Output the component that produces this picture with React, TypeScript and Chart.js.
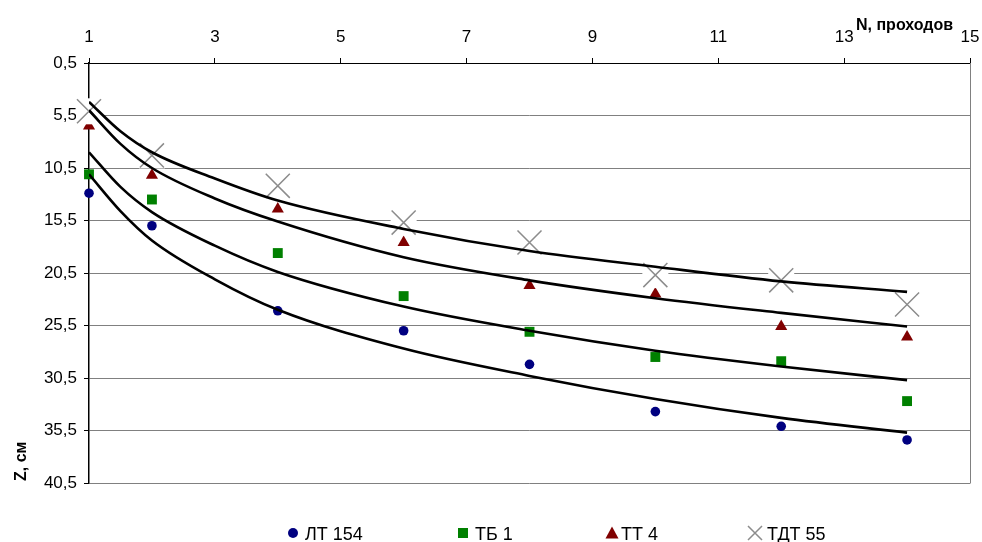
import React, { useEffect, useRef } from "react";
import { Chart, registerables } from "chart.js";

Chart.register(...registerables);

// ---- data ----
const xValues = [1, 2, 4, 6, 8, 10, 12, 14];
const lt154 = [12.9, 16.0, 24.1, 26.0, 29.2, 33.7, 35.1, 36.4];
const tb1 = [11.1, 13.5, 18.6, 22.7, 26.1, 28.5, 28.9, 32.7];
const tt4 = [6.5, 11.2, 14.4, 17.6, 21.7, 22.5, 25.6, 26.6];
const tdt55 = [5.1, 9.3, 12.2, 15.7, 17.6, 20.7, 21.2, 23.5];

// trend lines
const trendX = [1, 1.5, 2, 3, 4, 6, 8, 10, 12, 14];
const trendLT = [11.1, 14.6, 17.4, 21.1, 24.0, 27.7, 30.3, 32.5, 34.3, 35.7];
const trendTB = [9.0, 12.3, 14.7, 17.9, 20.4, 23.7, 26.0, 27.9, 29.4, 30.7];
const trendTT = [5.0, 8.2, 10.5, 13.4, 15.6, 19.0, 21.2, 22.9, 24.3, 25.6];
const trendTDT = [4.2, 7.0, 9.0, 11.5, 13.6, 16.3, 18.4, 19.9, 21.3, 22.3];

const seriesNames = ["ЛТ 154", "ТБ 1", "ТТ 4", "ТДТ 55"];
const xTicks = [1, 3, 5, 7, 9, 11, 13, 15];
const yTicks = [0.5, 5.5, 10.5, 15.5, 20.5, 25.5, 30.5, 35.5, 40.5];
const xTitle = "N, проходов";
const yTitle = "Z, см";

const FONT = "'Liberation Sans', Arial, sans-serif";
const COLORS = ["#000080", "#008000", "#800000", "#8c8c8c"];

const pts = (xs: number[], ys: number[]) => xs.map((x, i) => ({ x, y: ys[i] }));

const legendX = [293, 463, 612, 755];

const extrasPlugin = {
  id: "extras",
  beforeDatasetsDraw(chart: any) {
    const { ctx, chartArea } = chart;
    ctx.save();
    ctx.strokeStyle = "#808080";
    ctx.lineWidth = 1;
    ctx.beginPath();
    ctx.moveTo(chartArea.right + 0.5, chartArea.top);
    ctx.lineTo(chartArea.right + 0.5, chartArea.bottom + 0.5);
    ctx.stroke();
    ctx.restore();
  },
  afterDraw(chart: any) {
    const { ctx } = chart;
    ctx.save();
    // axis titles
    ctx.fillStyle = "#000";
    ctx.font = `bold 16px ${FONT}`;
    ctx.textAlign = "left";
    ctx.textBaseline = "alphabetic";
    ctx.fillText(xTitle, 856, 30);
    ctx.save();
    ctx.translate(26, 481);
    ctx.rotate(-Math.PI / 2);
    ctx.fillText(yTitle, 0, 0);
    ctx.restore();

    // legend
    const cy = 533;
    seriesNames.forEach((name, i) => {
      const cx = legendX[i];
      ctx.fillStyle = COLORS[i];
      ctx.strokeStyle = COLORS[i];
      if (i === 0) {
        ctx.beginPath();
        ctx.arc(cx, cy, 5, 0, Math.PI * 2);
        ctx.fill();
      } else if (i === 1) {
        ctx.fillRect(cx - 5, cy - 5, 10, 10);
      } else if (i === 2) {
        ctx.beginPath();
        ctx.moveTo(cx, cy - 6.5);
        ctx.lineTo(cx + 6.5, cy + 5.5);
        ctx.lineTo(cx - 6.5, cy + 5.5);
        ctx.closePath();
        ctx.fill();
      } else {
        ctx.lineWidth = 1.5;
        ctx.beginPath();
        ctx.moveTo(cx - 7, cy - 7);
        ctx.lineTo(cx + 7, cy + 7);
        ctx.moveTo(cx + 7, cy - 7);
        ctx.lineTo(cx - 7, cy + 7);
        ctx.stroke();
      }
      ctx.fillStyle = "#000";
      ctx.font = `18px ${FONT}`;
      ctx.textAlign = "left";
      ctx.textBaseline = "alphabetic";
      ctx.fillText(name, cx + (i === 2 ? 9 : 12), 540);
    });
    ctx.restore();
  },
};

export default function App() {
  const ref = useRef<HTMLCanvasElement | null>(null);
  useEffect(() => {
    if (!ref.current) return;
    const trend = (ys: number[]) => ({
      data: pts(trendX, ys),
      showLine: true,
      pointRadius: 0,
      pointHoverRadius: 0,
      borderColor: "#000",
      borderWidth: 2.6,
      cubicInterpolationMode: "monotone" as const,
      order: 1,
    });
    const chart = new Chart(ref.current, {
      type: "scatter",
      data: {
        datasets: [
          {
            label: seriesNames[0],
            data: pts(xValues, lt154),
            pointStyle: "circle",
            pointRadius: 4.8,
            backgroundColor: COLORS[0],
            borderColor: COLORS[0],
            borderWidth: 0,
            clip: false,
            order: 4,
          },
          {
            label: seriesNames[1],
            data: pts(xValues, tb1),
            pointStyle: "rect",
            pointRadius: 7,
            backgroundColor: COLORS[1],
            borderColor: COLORS[1],
            borderWidth: 0,
            clip: false,
            order: 4,
          },
          {
            label: seriesNames[2],
            data: pts(xValues, tt4),
            pointStyle: "triangle",
            pointRadius: 7,
            backgroundColor: COLORS[2],
            borderColor: COLORS[2],
            borderWidth: 0,
            clip: false,
            order: 4,
          },
          {
            label: "bg",
            data: pts(xValues, tdt55),
            pointStyle: "rect",
            pointRadius: 18.4,
            backgroundColor: "#ffffff",
            borderWidth: 0,
            clip: false,
            order: 3,
          },
          {
            label: seriesNames[3],
            data: pts(xValues, tdt55),
            pointStyle: "crossRot",
            pointRadius: 17,
            backgroundColor: COLORS[3],
            borderColor: COLORS[3],
            borderWidth: 1.5,
            clip: false,
            order: 2,
          },
          trend(trendLT),
          trend(trendTB),
          trend(trendTT),
          trend(trendTDT),
        ] as any,
      },
      options: {
        animation: false,
        responsive: false,
        devicePixelRatio: 1,
        events: [],
        layout: { autoPadding: false, padding: { left: 0, right: 12, top: 0, bottom: 59 } },
        plugins: { legend: { display: false }, tooltip: { enabled: false } },
        scales: {
          x: {
            type: "linear",
            position: "top",
            min: 1,
            max: 15,
            afterBuildTicks: (s: any) => {
              s.ticks = xTicks.map((v) => ({ value: v }));
            },
            afterFit: (s: any) => {
              s.height = 63;
            },
            ticks: {
              color: "#000",
              font: { family: FONT, size: 17, lineHeight: 2.4 },
              padding: 0,
              maxRotation: 0,
              autoSkip: false,
              callback: (v: any) => String(v),
            },
            grid: {
              drawOnChartArea: false,
              drawTicks: true,
              tickLength: 5,
              tickColor: "#000",
            },
            border: { color: "#000", width: 1 },
          },
          y: {
            type: "linear",
            reverse: true,
            min: 0.5,
            max: 40.5,
            afterBuildTicks: (s: any) => {
              s.ticks = yTicks.map((v) => ({ value: v }));
            },
            afterFit: (s: any) => {
              s.width = 89;
            },
            ticks: {
              color: "#000",
              font: { family: FONT, size: 17 },
              padding: 7,
              autoSkip: false,
              callback: (v: any) => Number(v).toFixed(1).replace(".", ","),
            },
            grid: {
              color: "#808080",
              tickColor: "#000",
              tickLength: 5,
              lineWidth: 1,
            },
            border: { color: "#000", width: 1.5 },
          },
        },
      } as any,
      plugins: [extrasPlugin],
    });
    return () => chart.destroy();
  }, []);

  return (
    <div style={{ position: "absolute", left: 0, top: 0, width: 982, height: 542, background: "#fff" }}>
      <canvas ref={ref} width={982} height={542} style={{ display: "block", width: 982, height: 542 }} />
    </div>
  );
}
